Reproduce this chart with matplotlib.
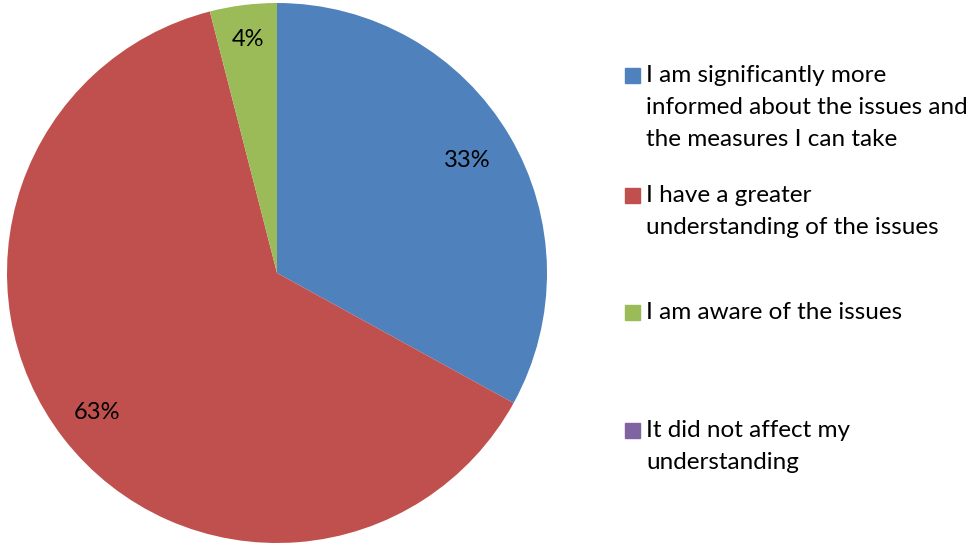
import numpy as np
import matplotlib.pyplot as plt
from matplotlib.patches import Rectangle

labels = ["I am significantly more\ninformed about the issues and\nthe measures I can take",
          "I have a greater\nunderstanding of the issues",
          "I am aware of the issues",
          "It did not affect my\nunderstanding"]
values = [33, 63, 4, 0]
colours = ["#4F81BD", "#C0504D", "#9BBB59", "#8064A2"]

plt.rcParams['font.family'] = ['Lato', 'DejaVu Sans']

W, H = 979, 544
fig = plt.figure(figsize=(W / 100, H / 100), dpi=100)

cx, cy, r = 277, 273, 270
ax = fig.add_axes([(cx - r) / W, (H - cy - r) / H, 2 * r / W, 2 * r / H])

wedges, texts, autotexts = ax.pie(
    values, colors=colours, startangle=90, counterclock=False,
    autopct=lambda p: f"{p:.0f}%" if p > 0.5 else "", pctdistance=0.84,
    textprops=dict(fontsize=17, color="black"),
    wedgeprops=dict(linewidth=0))

# excel "best fit" puts each label a little differently
label_dist = [0.82, 0.845, 0.87, 0.84]
for w, t, d in zip(wedges, autotexts, label_dist):
    mid = np.deg2rad((w.theta1 + w.theta2) / 2)
    t.set_position((d * np.cos(mid), d * np.sin(mid)))

ax.set_xlim(-1, 1)
ax.set_ylim(-1, 1)
ax.set_aspect('equal')
ax.axis('off')

# legend drawn by hand to match the spacing of the original
marker_tops = [68, 188, 305, 423]
for lab, col, top in zip(labels, colours, marker_tops):
    fig.patches.append(Rectangle((625 / W, 1 - (top + 15) / H), 15 / W, 15 / H,
                                 transform=fig.transFigure, color=col))
    fig.text(646 / W, 1 - (top - 3) / H, lab, fontsize=17.5, va='top',
             ha='left', linespacing=1.65)

fig.savefig("out.png", dpi=100)
